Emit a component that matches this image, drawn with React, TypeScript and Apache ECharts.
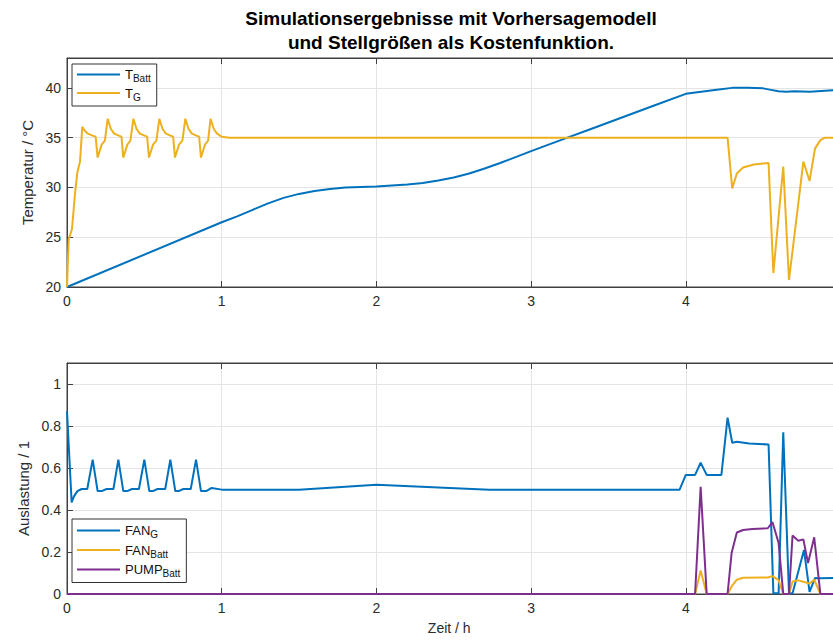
import React, { useEffect, useRef } from 'react';
import * as echarts from 'echarts';

const titleText = 'Simulationsergebnisse mit Vorhersagemodell\nund Stellgrößen als Kostenfunktion.';
const xAxisName = 'Zeit / h';
const topYAxisName = 'Temperatur / °C';
const bottomYAxisName = 'Auslastung / 1';

// Top plot: T_Batt
const tBattTime = [0, 1.0, 1.1, 1.2, 1.3, 1.4, 1.5, 1.6, 1.7, 1.8, 1.9, 2.0, 2.1, 2.2, 2.3, 2.4, 2.5, 2.6, 2.7, 2.8, 2.9, 3.0, 3.2, 3.4, 3.6, 3.8, 4.0, 4.1, 4.2, 4.3, 4.4, 4.5, 4.55, 4.6, 4.65, 4.7, 4.8, 4.9, 5.0];
const tBattValues = [20, 26.5, 27.1, 27.75, 28.4, 28.95, 29.35, 29.65, 29.85, 30.0, 30.05, 30.1, 30.2, 30.3, 30.45, 30.7, 31.0, 31.4, 31.9, 32.45, 33.05, 33.65, 34.8, 35.95, 37.1, 38.25, 39.4, 39.6, 39.8, 40.0, 40.0, 39.95, 39.8, 39.65, 39.6, 39.65, 39.6, 39.7, 39.8];

// Top plot: T_G
const tGTime = [0, 0.011, 0.032, 0.052, 0.067, 0.084, 0.099, 0.115, 0.135, 0.165, 0.185,
  0.198, 0.224, 0.245, 0.263, 0.283, 0.305, 0.335, 0.352,
  0.364, 0.39, 0.41, 0.429, 0.449, 0.471, 0.501, 0.518,
  0.530, 0.556, 0.578, 0.597, 0.617, 0.639, 0.669, 0.686,
  0.698, 0.724, 0.746, 0.765, 0.785, 0.807, 0.837, 0.854,
  0.866, 0.892, 0.912, 0.928, 0.948, 0.97, 1.0, 1.05,
  4.27, 4.30, 4.33, 4.37, 4.44, 4.50, 4.535, 4.566, 4.63, 4.667, 4.76, 4.80, 4.835, 4.87, 4.90, 5.0];
const tGValues = [20, 24.8, 25.8, 29.4, 31.5, 32.6, 36.1, 35.7, 35.4, 35.2, 35.1,
  33.0, 34.3, 34.7, 36.9, 35.9, 35.4, 35.2, 35.1,
  33.0, 34.3, 34.7, 36.9, 35.9, 35.4, 35.2, 35.1,
  33.0, 34.3, 34.7, 36.9, 35.9, 35.4, 35.2, 35.1,
  33.0, 34.3, 34.7, 36.9, 35.9, 35.4, 35.2, 35.1,
  33.0, 34.3, 34.7, 36.9, 35.9, 35.4, 35.1, 35.0,
  35.0, 29.9, 31.4, 32.0, 32.3, 32.4, 32.45, 21.4, 32.1, 20.7, 32.6, 30.65, 33.9, 34.75, 35.0, 35.0];

// Bottom plot: FAN_G
const fanGTime = [0, 0.03, 0.045, 0.067, 0.095, 0.131, 0.166,
  0.198, 0.224, 0.256, 0.30, 0.332,
  0.364, 0.39, 0.42, 0.465, 0.50,
  0.532, 0.555, 0.585, 0.635, 0.668,
  0.70, 0.722, 0.752, 0.80, 0.834,
  0.866, 0.90, 0.935, 1.0, 1.5, 2.0, 2.73, 3.96,
  4.0, 4.06, 4.096, 4.135, 4.23, 4.27, 4.30, 4.33, 4.41, 4.535, 4.566, 4.60, 4.63, 4.667, 4.69, 4.764, 4.80, 4.835, 4.87, 5.0];
const fanGValues = [0.87, 0.436, 0.465, 0.49, 0.50, 0.50, 0.64,
  0.49, 0.49, 0.50, 0.50, 0.64,
  0.49, 0.49, 0.50, 0.50, 0.64,
  0.49, 0.49, 0.50, 0.50, 0.64,
  0.49, 0.49, 0.50, 0.50, 0.64,
  0.49, 0.49, 0.505, 0.497, 0.497, 0.52, 0.497, 0.497,
  0.567, 0.567, 0.625, 0.567, 0.567, 0.84, 0.72, 0.725, 0.717, 0.712, 0.003, 0.003, 0.77, 0.003, 0.003, 0.21, 0.01, 0.076, 0.075, 0.076];

// Bottom plot: FAN_Batt
const fanBattTime = [0, 4.06, 4.096, 4.135, 4.27, 4.30, 4.33, 4.37, 4.53, 4.56, 4.60, 4.63, 4.667, 4.69, 4.727, 4.76, 4.80, 4.83, 4.87, 5.0];
const fanBattValues = [0, 0, 0.112, 0, 0, 0.04, 0.068, 0.077, 0.079, 0.085, 0.066, 0, 0, 0.06, 0.065, 0.058, 0.05, 0.068, 0, 0];

// Bottom plot: PUMP_Batt
const pumpBattTime = [0, 4.06, 4.096, 4.135, 4.27, 4.296, 4.33, 4.37, 4.43, 4.53, 4.56, 4.60, 4.63, 4.667, 4.69, 4.727, 4.76, 4.79, 4.83, 4.87, 5.0];
const pumpBattValues = [0, 0, 0.51, 0, 0, 0.195, 0.293, 0.305, 0.31, 0.313, 0.343, 0.243, 0, 0, 0.278, 0.254, 0.26, 0.147, 0.27, 0, 0];

const legendLabels: Record<string, [string, string]> = {
  T_Batt: ['T', 'Batt'],
  T_G: ['T', 'G'],
  FAN_G: ['FAN', 'G'],
  FAN_Batt: ['FAN', 'Batt'],
  PUMP_Batt: ['PUMP', 'Batt'],
};

const BLUE = '#0072BD';
const YELLOW = '#EDB120';
const PURPLE = '#7E2F8E';
const FONT = '"Liberation Sans", Arial, Helvetica, sans-serif';
const AXIS_COLOR = '#404040';
const LABEL_COLOR = '#2b2b2b';
const GRID_COLOR = '#e4e4e4';

const zip = (xs: number[], ys: number[]) => xs.map((x, i) => [x, ys[i]]);

function makeXAxis(gridIndex: number, bottom: boolean, withName: boolean) {
  return {
    type: 'value',
    gridIndex,
    position: bottom ? 'bottom' : 'top',
    min: 0,
    max: 5,
    interval: 1,
    name: withName ? xAxisName : '',
    nameLocation: 'middle',
    nameGap: 27,
    nameTextStyle: { fontFamily: FONT, fontSize: 14, color: LABEL_COLOR, padding: [0, 9, 0, 0] },
    axisLine: { show: true, onZero: false, lineStyle: { color: AXIS_COLOR, width: 1 } },
    axisTick: { show: true, inside: true, length: 6, lineStyle: { color: AXIS_COLOR } },
    axisLabel: { show: bottom, showMaxLabel: false, fontFamily: FONT, fontSize: 14, color: LABEL_COLOR, margin: 7 },
    splitLine: { show: bottom, lineStyle: { color: GRID_COLOR, width: 1 } },
  };
}

function makeYAxis(gridIndex: number, left: boolean, min: number, max: number, interval: number, name: string, namePadding: number[]) {
  return {
    type: 'value',
    gridIndex,
    position: left ? 'left' : 'right',
    min,
    max,
    interval,
    name: left ? name : '',
    nameLocation: 'middle',
    nameGap: 29,
    nameTextStyle: { fontFamily: FONT, fontSize: 15, color: LABEL_COLOR, padding: namePadding },
    axisLine: { show: true, onZero: false, lineStyle: { color: AXIS_COLOR, width: 1 } },
    axisTick: { show: true, inside: true, length: 6, lineStyle: { color: AXIS_COLOR } },
    axisLabel: { show: left, showMaxLabel: false, fontFamily: FONT, fontSize: 14, color: LABEL_COLOR, margin: 6 },
    splitLine: { show: left, lineStyle: { color: GRID_COLOR, width: 1 } },
  };
}

function makeLegend(names: string[], top: number, itemGap: number, padding: number[]) {
  return {
    data: names,
    orient: 'vertical',
    left: 72,
    top,
    icon: 'rect',
    itemWidth: 43,
    itemHeight: 2,
    itemGap,
    padding,
    backgroundColor: '#ffffff',
    borderColor: '#333333',
    borderWidth: 1,
    borderRadius: 0,
    selectedMode: false,
    formatter: (name: string) => {
      const [main, sub] = legendLabels[name];
      return `{m|${main}}{s|${sub}}`;
    },
    textStyle: {
      fontFamily: FONT,
      fontSize: 13,
      color: '#111',
      rich: {
        m: { fontFamily: FONT, fontSize: 13, lineHeight: 18, color: '#111' },
        s: { fontFamily: FONT, fontSize: 10, verticalAlign: 'bottom', color: '#111' },
      },
    },
  };
}

function lineSeries(name: string, xi: number, yi: number, data: number[][], color: string) {
  return {
    type: 'line',
    name,
    xAxisIndex: xi,
    yAxisIndex: yi,
    data,
    symbol: 'none',
    showSymbol: false,
    smooth: false,
    lineStyle: { color, width: 2 },
    itemStyle: { color },
    emphasis: { disabled: true },
  };
}

export default function App() {
  const ref = useRef<HTMLDivElement>(null);

  useEffect(() => {
    document.body.style.margin = '0';
    const chart = echarts.init(ref.current as HTMLDivElement, null, { renderer: 'svg' });
    const gridCommon = {
      left: 67,
      width: 773.5,
      show: true,
      borderColor: AXIS_COLOR,
      borderWidth: 1,
      backgroundColor: 'transparent',
      containLabel: false,
      outerBoundsMode: 'none',
    };
    chart.setOption({
      animation: false,
      backgroundColor: '#ffffff',
      title: {
        text: titleText,
        left: 451,
        top: 6,
        padding: 0,
        textAlign: 'center',
        textStyle: { fontFamily: FONT, fontSize: 19, fontWeight: 'bold', color: '#000', lineHeight: 24 },
      },
      grid: [
        { ...gridCommon, top: 58, height: 229 },
        { ...gridCommon, top: 363, height: 231 },
      ],
      xAxis: [
        makeXAxis(0, true, false),
        makeXAxis(0, false, false),
        makeXAxis(1, true, true),
        makeXAxis(1, false, false),
      ],
      yAxis: [
        makeYAxis(0, true, 20, 43, 5, topYAxisName, [0, 0, 0, 0]),
        makeYAxis(0, false, 20, 43, 5, '', [0, 0, 0, 0]),
        makeYAxis(1, true, 0, 1.1, 0.2, bottomYAxisName, [0, 20, 0, 0]),
        makeYAxis(1, false, 0, 1.1, 0.2, '', [0, 0, 0, 0]),
      ],
      legend: [
        makeLegend(['T_Batt', 'T_G'], 64, 3, [4, 6, 4, 5]),
        makeLegend(['FAN_G', 'FAN_Batt', 'PUMP_Batt'], 519, 4, [5, 6, 4, 5]),
      ],
      series: [
        lineSeries('T_Batt', 0, 0, zip(tBattTime, tBattValues), BLUE),
        lineSeries('T_G', 0, 0, zip(tGTime, tGValues), YELLOW),
        lineSeries('FAN_G', 2, 2, zip(fanGTime, fanGValues), BLUE),
        lineSeries('FAN_Batt', 2, 2, zip(fanBattTime, fanBattValues), YELLOW),
        lineSeries('PUMP_Batt', 2, 2, zip(pumpBattTime, pumpBattValues), PURPLE),
      ],
    });
    return () => chart.dispose();
  }, []);

  return <div ref={ref} style={{ width: 833, height: 640 }} />;
}
